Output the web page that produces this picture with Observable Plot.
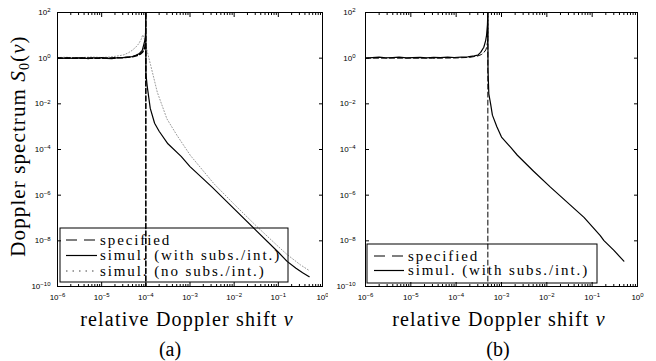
<!DOCTYPE html>
<html><head><meta charset="utf-8">
<script src="https://cdn.jsdelivr.net/npm/d3@7"></script>
<script src="https://cdn.jsdelivr.net/npm/@observablehq/plot@0.6"></script>
<style>
body{margin:0;background:#fff;}
#fig{display:flex;width:656px;height:361px;overflow:hidden;}
#fig svg{display:block;}
</style></head><body><div id="fig"></div>
<script>
// ---------- tick labels ----------
const xTicks = [1e-6, 1e-5, 1e-4, 1e-3, 1e-2, 1e-1, 1];
const xTickLabels = ["10^-6", "10^-5", "10^-4", "10^-3", "10^-2", "10^-1", "10^0"];
const yTicks = [1e2, 1, 1e-2, 1e-4, 1e-6, 1e-8, 1e-10];
const yTickLabels = ["10^2", "10^0", "10^-2", "10^-4", "10^-6", "10^-8", "10^-10"];

// ---------- panel (a) ----------
const aSpecNu = [1e-6, 1e-5, 3e-5, 5e-5, 6.5e-5, 7.5e-5, 8.5e-5, 9e-5, 9.5e-5, 9.8e-5, 9.9e-5, 9.97e-5, 1e-4, 1e-4];
const aSpecS  = [1, 1.005, 1.05, 1.15, 1.32, 1.51, 1.9, 2.29, 3.2, 5.0, 7.1, 13, 100, 1e-10];

const aSolidNu = [1e-6, 1.3e-6, 1.7e-6, 2.2e-6, 3e-6, 4e-6, 5e-6, 6.5e-6, 8e-6, 1e-5, 1.3e-5, 1.7e-5, 2.2e-5, 3e-5, 4e-5, 5e-5, 5.9e-5, 7e-5, 8.3e-5, 9.1e-5, 9.7e-5, 9.9e-5, 1e-4, 1.005e-4, 1.07e-4, 1.26e-4, 1.58e-4, 2e-4, 3.16e-4, 6.3e-4, 1e-3, 3.16e-3, 1e-2, 3.16e-2, 0.1, 0.158, 0.251, 0.355, 0.5];
const aSolidS  = [1.0, 0.98, 1.02, 0.97, 1.03, 1.0, 0.96, 1.04, 0.99, 1.06, 0.97, 0.95, 1.03, 1.05, 1.1, 1.18, 1.32, 1.55, 2.2, 4.3, 7, 15, 100, 0.2, 6.3e-2, 6.3e-3, 1.41e-3, 6.3e-4, 1.78e-4, 5.0e-5, 1.78e-5, 2.24e-6, 2.5e-7, 2.8e-8, 3.16e-9, 1.26e-9, 6.3e-10, 4.0e-10, 2.7e-10];

const aNoSubNu = [1e-6, 1.5e-6, 2.5e-6, 4e-6, 6e-6, 1e-5, 1.5e-5, 2e-5, 2.6e-5, 3.16e-5, 4e-5, 4.9e-5, 6e-5, 6.9e-5, 7.8e-5, 8.5e-5, 9.3e-5, 1e-4, 1.29e-4, 1.82e-4, 3.0e-4, 5.1e-4, 1.02e-3, 3.47e-3, 1e-2, 3.16e-2, 0.1, 0.158, 0.316, 0.5];
const aNoSubS  = [1.06, 1.1, 1.04, 1.08, 1.12, 1.07, 1.12, 1.2, 1.3, 1.4, 1.7, 2.2, 3.1, 4.3, 6.5, 10.5, 7, 3.5, 0.48, 3.2e-2, 2.2e-3, 4.1e-4, 5.5e-5, 3.2e-6, 4e-7, 4.5e-8, 5.6e-9, 2.5e-9, 8.9e-10, 5e-10];

// ---------- panel (b) ----------
const bSpecNu = [1e-6, 3e-5, 1e-4, 2e-4, 3e-4, 3.6e-4, 4e-4, 4.5e-4, 4.75e-4, 4.9e-4, 4.95e-4, 4.985e-4, 5e-4, 5e-4];
const bSpecS  = [1, 1.0, 1.02, 1.09, 1.25, 1.44, 1.67, 2.29, 3.2, 5.0, 7.1, 13, 100, 1e-10];

const bSolidNu = [1e-6, 1.4e-6, 2e-6, 2.8e-6, 4e-6, 5.5e-6, 8e-6, 1.1e-5, 1.6e-5, 2.2e-5, 3.2e-5, 4.5e-5, 6.5e-5, 9e-5, 1.3e-4, 1.8e-4, 2.5e-4, 3.0e-4, 3.47e-4, 4.07e-4, 4.47e-4, 4.68e-4, 4.9e-4, 5e-4, 5.04e-4, 5.25e-4, 5.75e-4, 6.3e-4, 7.9e-4, 1e-3, 1.58e-3, 2.24e-3, 5.1e-3, 1.2e-2, 6.6e-2, 0.151, 0.182, 0.302, 0.5];
const bSolidS  = [1.0, 1.05, 1.12, 1.04, 1.07, 1.1, 1.03, 1.06, 1.09, 1.04, 1.08, 1.05, 1.1, 1.07, 1.12, 1.15, 1.25, 1.35, 1.8, 3.0, 5.9, 10, 30, 100, 0.3, 2.75e-2, 1.0e-2, 3.2e-3, 1.0e-3, 3.5e-4, 1.26e-4, 5.6e-5, 1.12e-5, 2.24e-6, 1.07e-7, 1.7e-8, 1.02e-8, 3.8e-9, 1.29e-9];

const legendA = ["specified", "simul. (with subs./int.)", "simul. (no subs./int.)"];
const legendB = ["specified", "simul. (with subs./int.)"];

// ---------- drawing ----------
const SERIF = "'Liberation Serif', 'Times New Roman', serif";
const xMinor = d3.scaleLog().domain([1e-6, 1]).ticks().filter(v => !xTicks.some(t => Math.abs(t - v) / t < 1e-9));
const rows = (nu, s) => nu.map((v, i) => ({nu: v, s: s[i]}));
const fmtX = v => xTickLabels[xTicks.findIndex(t => Math.abs(t - v) / t < 1e-9)] ?? "";
const fmtY = v => yTickLabels[yTicks.findIndex(t => Math.abs(t - v) / t < 1e-9)] ?? "";

function superscripts(svg) {
  d3.select(svg).selectAll('g[aria-label="x-axis tick label"] text, g[aria-label="y-axis tick label"] text').each(function () {
    const t = this.textContent;
    if (!t.includes("^")) return;
    const [base, exp] = t.split("^");
    const sel = d3.select(this);
    sel.text(null);
    sel.append("tspan").text(base);
    sel.append("tspan").attr("dy", "-0.45em").attr("font-size", "6px").text(exp.replace("-", "\u2212"));
  });
}

function makePanel(cfg) {
  const svg = Plot.plot({
    width: cfg.width, height: 361,
    marginLeft: cfg.ml, marginRight: cfg.mr, marginTop: 12, marginBottom: 75,
    x: {type: "log", domain: [1e-6, 1]},
    y: {type: "log", domain: [1e-10, 1e2]},
    style: {fontFamily: "'Liberation Sans', Arial, sans-serif", fontSize: "8px", color: "black", background: "white", overflow: "visible"},
    marks: [
      ...cfg.lines.map(l => Plot.line(rows(l.nu, l.s), {x: "nu", y: "s", stroke: l.stroke, strokeWidth: l.width, strokeDasharray: l.dash, clip: true})),
      Plot.frame({stroke: "black", strokeWidth: 1}),
      Plot.axisX({ticks: xMinor, anchor: "bottom", tickSize: -2, tickFormat: () => "", label: null}),
      Plot.axisX({ticks: xMinor, anchor: "top", tickSize: -2, tickFormat: () => "", label: null}),
      Plot.axisX({ticks: xTicks, anchor: "bottom", tickSize: -4, tickPadding: 12, tickFormat: fmtX, label: null}),
      Plot.axisX({ticks: xTicks, anchor: "top", tickSize: -4, tickFormat: () => "", label: null}),
      Plot.axisY({ticks: yTicks, anchor: "left", tickSize: -4, tickPadding: cfg.ypad, tickFormat: fmtY, label: null}),
      Plot.axisY({ticks: yTicks, anchor: "right", tickSize: -4, tickFormat: () => "", label: null})
    ]
  });
  superscripts(svg);
  const g = d3.select(svg).append("g").attr("font-family", SERIF).attr("fill", "black").attr("text-anchor", "start");
  // legend
  const L = cfg.legend;
  g.append("rect").attr("x", L.x).attr("y", L.y).attr("width", L.w).attr("height", L.h)
    .attr("fill", "none").attr("stroke", "black").attr("stroke-width", 1);
  L.items.forEach((it, i) => {
    const yy = L.y0 + i * L.dy;
    g.append("line").attr("x1", L.lx1).attr("x2", L.lx2).attr("y1", yy).attr("y2", yy)
      .attr("stroke", it.stroke).attr("stroke-width", it.width).attr("stroke-dasharray", it.dash || null);
    g.append("text").attr("x", L.tx).attr("y", yy + 4.5).attr("text-anchor", "start")
      .attr("font-size", 15).attr("letter-spacing", 1.9).text(it.label);
  });
  // x label
  const xl = g.append("text").attr("x", cfg.xlc).attr("y", 326).attr("text-anchor", "middle")
    .attr("font-size", 20).attr("letter-spacing", 1.2);
  xl.append("tspan").text("relative Doppler shift ");
  xl.append("tspan").attr("font-style", "italic").text("\u03bd");
  g.append("text").attr("x", cfg.tagx).attr("y", 356).attr("text-anchor", "middle").attr("font-size", 20).text(cfg.tag);
  if (cfg.ylabel) {
    const yl = g.append("text").attr("transform", "translate(25,146) rotate(-90)").attr("text-anchor", "middle")
      .attr("font-size", 21).attr("letter-spacing", 1.1);
    yl.append("tspan").text("Doppler spectrum ");
    yl.append("tspan").attr("font-style", "italic").text("S");
    yl.append("tspan").attr("font-size", 14).attr("dy", 4).text("0");
    yl.append("tspan").attr("dy", -4).text("(");
    yl.append("tspan").attr("font-style", "italic").text("\u03bd");
    yl.append("tspan").text(")");
  }
  return svg;
}

const SOLID = {stroke: "black", width: 1.2};
const DASH_A = {stroke: "black", width: 1.6, dash: "5,2.5"};
const DOT = {stroke: "#9a9a9a", width: 1, dash: "1,2"};

const panelA = makePanel({
  width: 328, ml: 57, mr: 6, ypad: 11, xlc: 187, tagx: 170, tag: "(a)", ylabel: true,
  lines: [
    {nu: aNoSubNu, s: aNoSubS, ...DOT},
    {nu: aSpecNu, s: aSpecS, ...DASH_A},
    {nu: aSolidNu, s: aSolidS, ...SOLID}
  ],
  legend: {x: 60, y: 228, w: 228, h: 54, y0: 240, dy: 15.5, lx1: 66, lx2: 97, tx: 100,
    items: [
      {label: legendA[0], stroke: "black", width: 1.2, dash: "11,7"},
      {label: legendA[1], stroke: "black", width: 1.2},
      {label: legendA[2], stroke: "#444", width: 1.2, dash: "1.5,5"}
    ]}
});

const panelB = makePanel({
  width: 328, ml: 37, mr: 19, ypad: 14, xlc: 171, tagx: 170, tag: "(b)", ylabel: false,
  lines: [
    {nu: bSpecNu, s: bSpecS, stroke: "black", width: 1, dash: "5,3"},
    {nu: bSolidNu, s: bSolidS, ...SOLID}
  ],
  legend: {x: 39, y: 244, w: 230, h: 39, y0: 256, dy: 14.5, lx1: 46, lx2: 76, tx: 80,
    items: [
      {label: legendB[0], stroke: "black", width: 1.2, dash: "11,7"},
      {label: legendB[1], stroke: "black", width: 1.2}
    ]}
});

document.getElementById("fig").append(panelA, panelB);
</script></body></html>
